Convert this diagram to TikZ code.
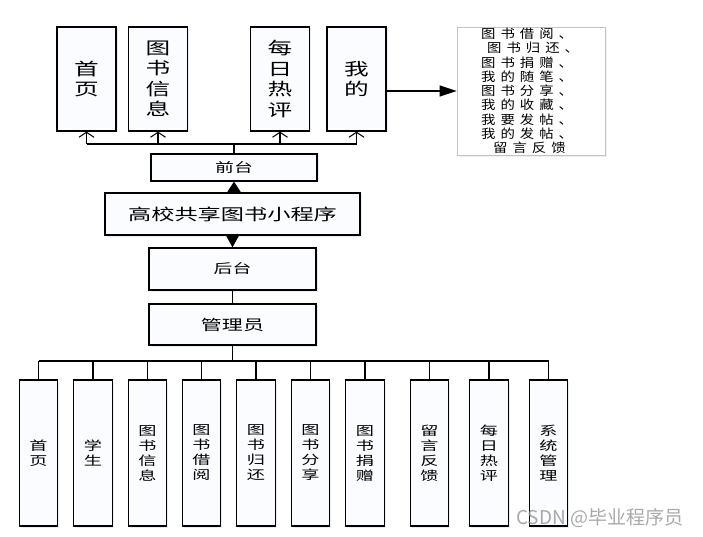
\documentclass[tikz,border=0pt]{standalone}
\usepackage{fontspec}
\setmainfont{Noto Sans CJK SC}
\newfontfamily\widefont[FakeStretch=1.45]{Noto Sans CJK SC}
\newfontfamily\listfont[FakeStretch=1.15,LetterSpace=40]{Noto Sans CJK SC}
\usetikzlibrary{arrows.meta,shadows}
\definecolor{boxfill}{RGB}{250,252,255}
\definecolor{shade}{RGB}{190,205,235}
\tikzset{
  box/.style={draw=black, line width=1.3pt, fill=boxfill, inner sep=0pt,
    align=center, drop shadow={shadow xshift=1.5pt, shadow yshift=-1.5pt, opacity=0.35, fill=shade}},
  topbox/.style={box, minimum width=59pt, minimum height=104pt,
    font=\widefont\fontsize{17}{20.5}\selectfont},
  lowbox/.style={box, minimum width=38.5pt, minimum height=146pt,
    font=\widefont\fontsize{12.5}{15}\selectfont},
  midbox/.style={box, font=\widefont\fontsize{13}{16}\selectfont},
  listbox/.style={draw={rgb,255:red,195;green,195;blue,195}, line width=0.8pt, fill=white,
    inner sep=0pt, minimum width=148pt, minimum height=128pt,
    drop shadow={shadow xshift=1.5pt, shadow yshift=-2pt, opacity=0.3, fill=shade}},
  link/.style={draw=black, line width=1.3pt},
  openarrow/.style={link, -{Straight Barb[length=5pt,width=15pt,line width=1pt]}},
  fillarrow/.style={link, -{Triangle[length=#1,width=14pt]}},
  fillarrow/.default=12pt,
}
\begin{document}
\begin{tikzpicture}[x=1pt,y=-1pt]
\useasboundingbox (0,0) rectangle (703,537);

% front-end modules
\node[topbox] (t1) at (86.5,79) {首\\页};
\node[topbox] (t2) at (158,79) {图\\书\\信\\息};
\node[topbox] (t3) at (280,79) {每\\日\\热\\评};
\node[topbox] (t4) at (356.5,79) {我\\的};

% features under "我的"
\node[listbox] (list) at (531,91) {};
\node[font=\listfont\fontsize{12.5}{14.25}\selectfont, align=left, anchor=west, inner sep=0pt]
  (listtext) at (481,91) {图书借阅、\\\hspace{6pt}图书归还、\\图书捐赠、\\我的随笔、\\图书分享、\\我的收藏、\\我要发帖、\\我的发帖、\\\hspace{12pt}留言反馈};

% main column
\node[midbox, minimum width=166pt, minimum height=27pt] (qian) at (234,167.5) {前台};
\node[midbox, minimum width=255pt, minimum height=42pt,
  font=\widefont\fontsize{16}{19}\selectfont] (app) at (232.5,214) {高校共享图书小程序};
\node[midbox, minimum width=167pt, minimum height=42pt] (hou) at (232.5,269) {后台};
\node[midbox, minimum width=167pt, minimum height=41pt,
  font=\widefont\fontsize{14.5}{17}\selectfont] (admin) at (232.5,324.5) {管理员};

% back-end modules
\foreach \x/\n/\t in {38.5/b1/{首\\页}, 93/b2/{学\\生}, 147.5/b3/{图\\书\\信\\息},
    201.5/b4/{图\\书\\借\\阅}, 256/b5/{图\\书\\归\\还}, 310.5/b6/{图\\书\\分\\享},
    365/b7/{图\\书\\捐\\赠}, 429.5/b8/{留\\言\\反\\馈}, 489/b9/{每\\日\\热\\评},
    548.5/b10/{系\\统\\管\\理}}
  \node[lowbox] (\n) at (\x,453) {\t};

% connectors of the front end
\coordinate (tbus) at (234,144);
\draw[link] (qian.north) -- (tbus);
\draw[link] (tbus -| t1) -- (tbus -| t4);
\foreach \n in {t1,t2,t3,t4}
  \draw[openarrow] (tbus -| \n) -- (\n.south);
\draw[link, -{Triangle[length=17pt,width=11pt]}] (t4.east |- list.west) -- (list.west);

% app to front end and back end
\draw[fillarrow=11pt] (app.north -| qian.south) -- (qian.south);
\draw[fillarrow=13pt] (app.south) -- (hou.north);
\draw[link] (hou.south) -- (admin.north);

% connectors of the back end
\coordinate (bbus) at (232.5,361);
\draw[link] (admin.south) -- (bbus);
\draw[link] (bbus -| b1) -- (bbus -| b10);
\foreach \n in {b1,b2,b3,b4,b5,b6,b7,b8,b9,b10}
  \draw[link] (bbus -| \n) -- (\n.north);

% watermark
\node[font=\fontsize{19}{22}\selectfont, text=gray!85, opacity=0.8, anchor=west, inner sep=0pt]
  (mark) at (516,518) {CSDN @毕业程序员};
\end{tikzpicture}
\end{document}
